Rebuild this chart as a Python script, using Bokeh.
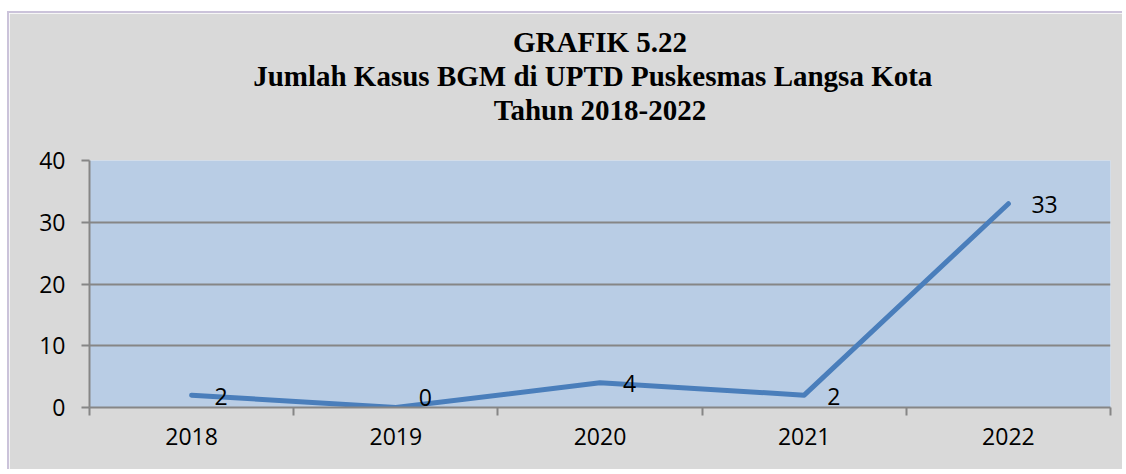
from bokeh.plotting import figure
from bokeh.models import Range1d, FixedTicker, ColumnDataSource, Title, Label
from bokeh.embed import file_html
from bokeh.resources import INLINE
import numpy as np

years = ["2018", "2019", "2020", "2021", "2022"]
cases = [2, 0, 4, 2, 33]
y_ticks = [0, 10, 20, 30, 40]
title_lines = ["GRAFIK 5.22", "Jumlah  Kasus BGM di UPTD Puskesmas  Langsa Kota", "Tahun 2018-2022"]

xs = np.arange(len(years)) + 0.5
src = ColumnDataSource(dict(x=xs, y=cases))

y_start, y_end = y_ticks[0], y_ticks[-1]
p = figure(width=1115, height=458, output_backend="svg", toolbar_location=None,
           x_range=Range1d(0, len(years)), y_range=Range1d(y_start, y_end),
           min_border_left=80, min_border_right=14, min_border_bottom=64, min_border_top=147)
p.background_fill_color = "#b9cde5"
p.border_fill_color = "#d9d9d9"
p.outline_line_color = None
p.title.visible = False

# spacer between title block and plot area
p.add_layout(Title(text=" ", text_font_size="30px", standoff=0, offset=0), "above")
for line in reversed(title_lines):
    t = Title(text=line, align="center", text_font="Liberation Serif", text_font_style="bold",
              text_font_size="29px", text_color="#000000", standoff=0, offset=0)
    p.add_layout(t, "above")

# x axis
p.xaxis.ticker = FixedTicker(ticks=list(xs), minor_ticks=list(range(len(years) + 1)))
p.xaxis.major_label_overrides = {float(x): y for x, y in zip(xs, years)}
p.xaxis.major_tick_line_color = None
p.xaxis.minor_tick_line_color = "#868686"
p.xaxis.minor_tick_line_width = 2
p.xaxis.minor_tick_out = 8
p.xaxis.minor_tick_in = 0
p.xaxis.axis_line_color = "#868686"
p.xaxis.axis_line_width = 2
p.xaxis.major_label_text_font = "Open Sans"
p.xaxis.major_label_text_font_size = "23px"
p.xaxis.major_label_text_color = "#000000"
p.xaxis.major_label_standoff = 12

# y axis
p.yaxis.ticker = FixedTicker(ticks=y_ticks)
p.yaxis.minor_tick_line_color = None
p.yaxis.major_tick_line_color = "#868686"
p.yaxis.major_tick_line_width = 2
p.yaxis.major_tick_out = 8
p.yaxis.major_tick_in = 0
p.yaxis.axis_line_color = "#868686"
p.yaxis.axis_line_width = 2
p.yaxis.major_label_text_font = "Open Sans"
p.yaxis.major_label_text_font_size = "23px"
p.yaxis.major_label_text_color = "#000000"
p.yaxis.major_label_standoff = 16

p.xgrid.grid_line_color = None
p.ygrid.ticker = FixedTicker(ticks=y_ticks)
p.ygrid.grid_line_color = "#868686"
p.ygrid.grid_line_width = 2

p.line("x", "y", source=src, line_color="#4a7ebb", line_width=5, line_cap="round", line_join="round")
for xv, yv in zip(xs, cases):
    at_floor = (yv == y_start)  # keep a label on the axis floor inside the plot area
    p.add_layout(Label(x=float(xv), y=yv, text=str(yv), x_offset=23, y_offset=(2 if at_floor else -1),
                       text_align="left", text_baseline=("bottom" if at_floor else "middle"),
                       text_font="Open Sans", text_font_size="23px", text_color="#000000",
                       level="overlay"))

p.stylesheets = [":host { margin-left: 7px; margin-top: 11px; border-left: 2px solid #cbc3da; border-top: 2px solid #cbc3da; }"]

open("out.html", "w").write(file_html(p, INLINE))
